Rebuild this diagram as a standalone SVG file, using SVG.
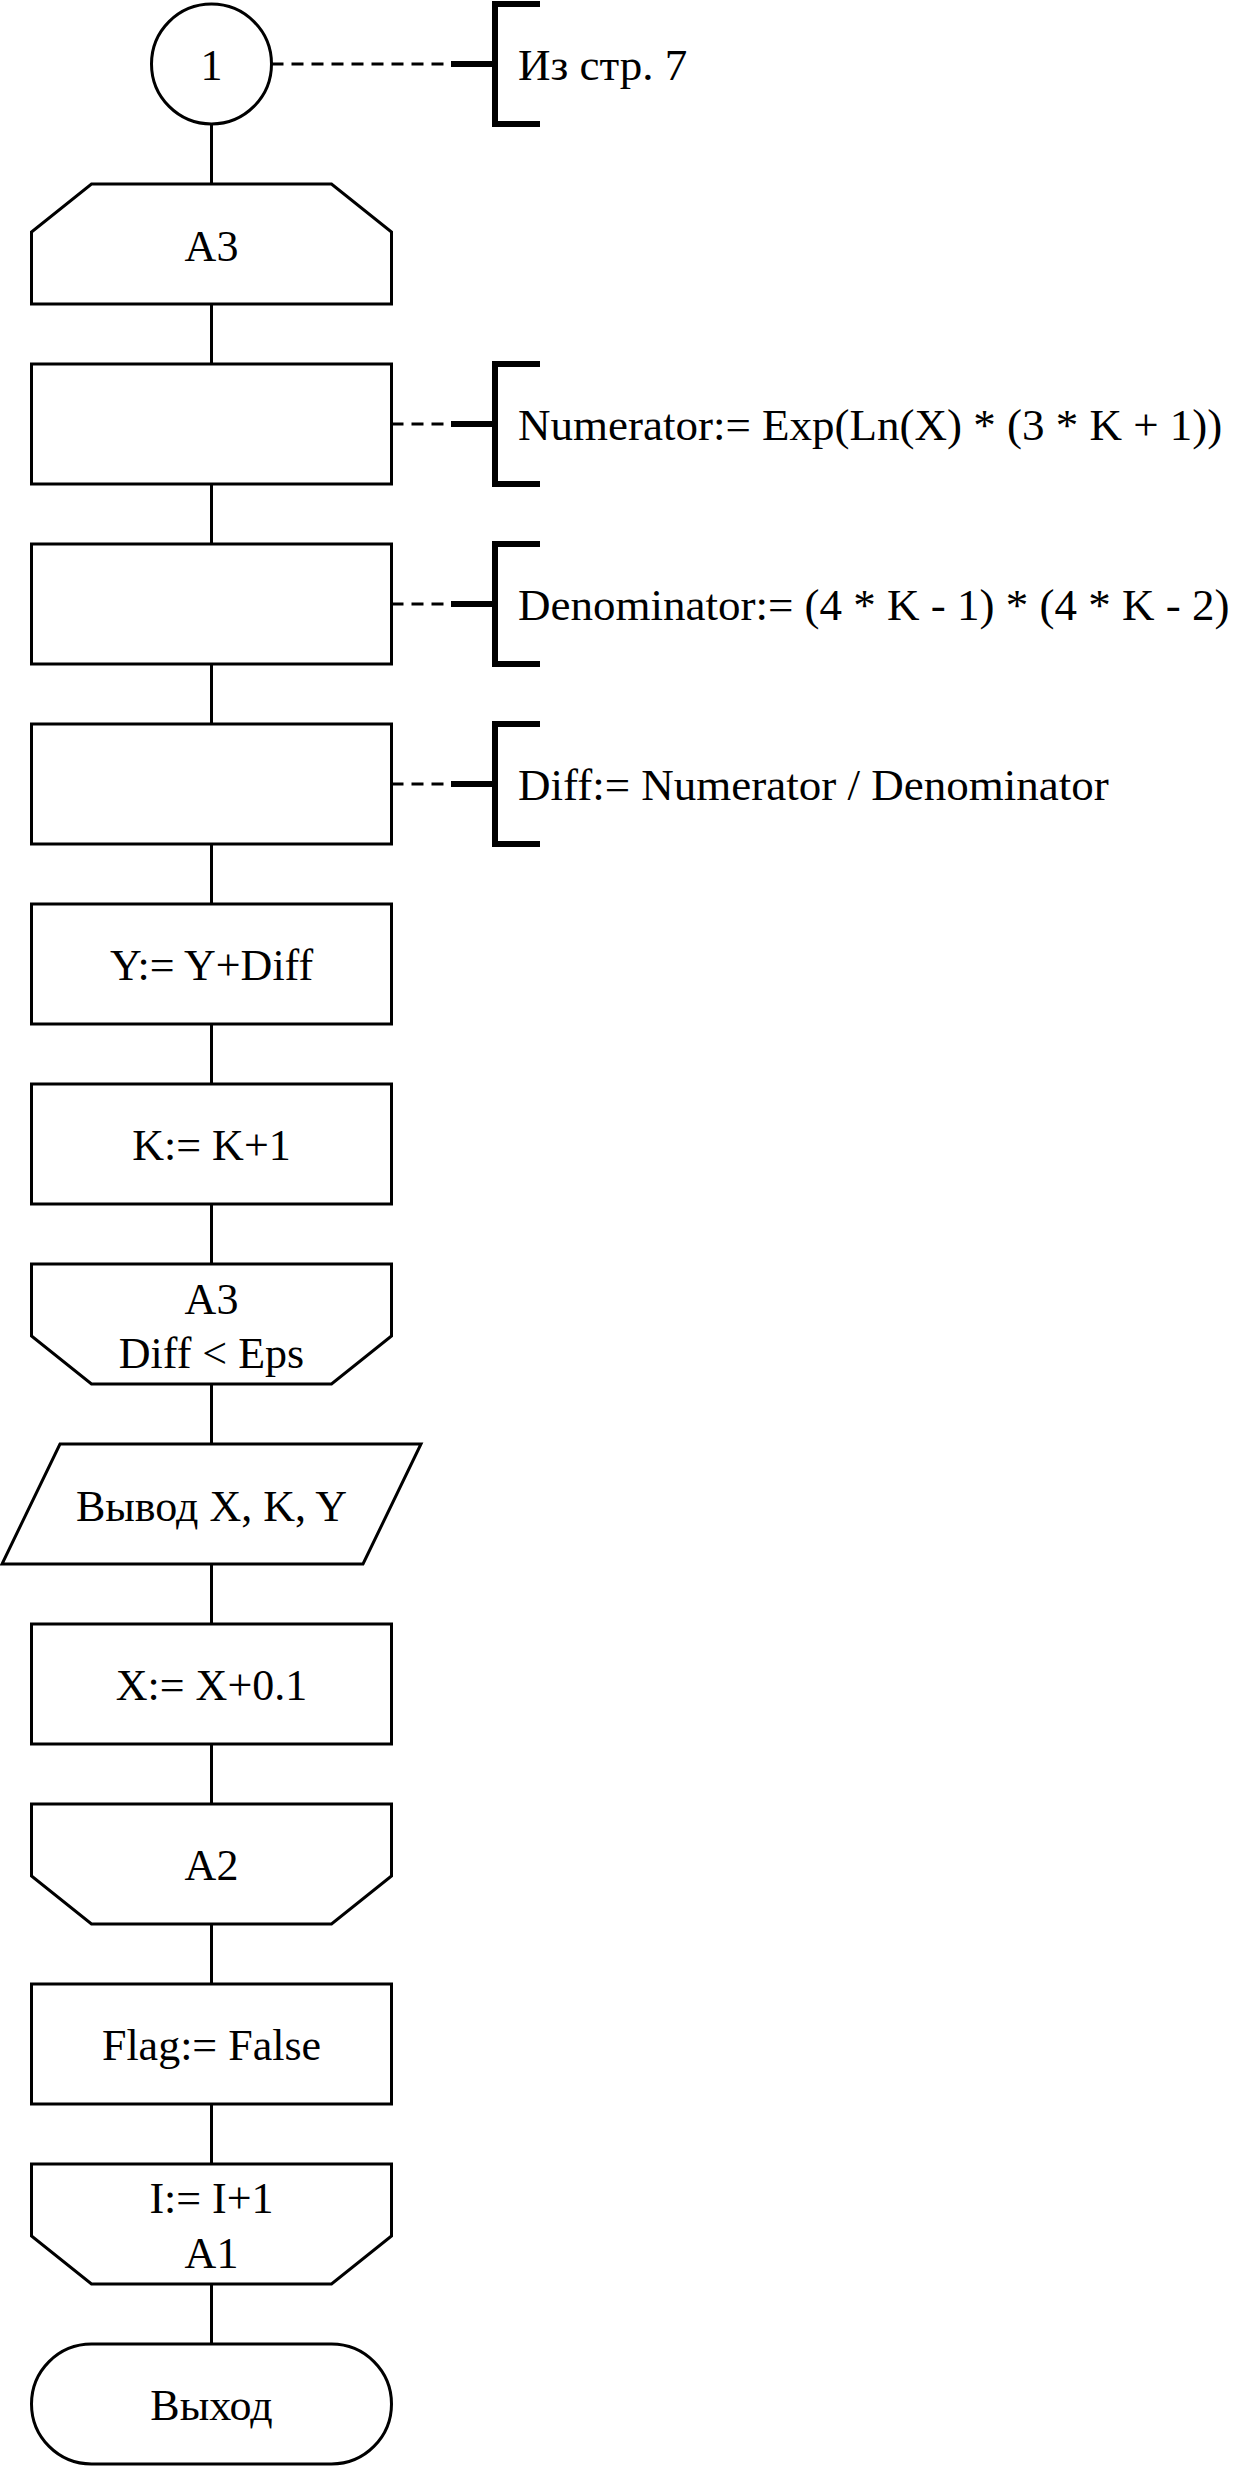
<svg xmlns="http://www.w3.org/2000/svg" width="1233" height="2466" viewBox="0 0 1233 2466">
<style>
.s{fill:#fff;stroke:#000;stroke-width:3}
.t{font-family:"Liberation Serif","Times New Roman",serif;font-size:44px;fill:#000;text-anchor:middle}
.a{font-family:"Liberation Serif","Times New Roman",serif;font-size:45px;fill:#000}
.c{stroke:#000;stroke-width:3;fill:none}
.d{stroke:#000;stroke-width:3;fill:none;stroke-dasharray:12 8}
.k{stroke:#000;stroke-width:6;fill:none}
</style>
<rect width="1233" height="2466" fill="#fff"/>
<g id="connectors">
<line class="c" x1="211.5" y1="124" x2="211.5" y2="184"/>
<line class="c" x1="211.5" y1="304" x2="211.5" y2="364"/>
<line class="c" x1="211.5" y1="484" x2="211.5" y2="544"/>
<line class="c" x1="211.5" y1="664" x2="211.5" y2="724"/>
<line class="c" x1="211.5" y1="844" x2="211.5" y2="904"/>
<line class="c" x1="211.5" y1="1024" x2="211.5" y2="1084"/>
<line class="c" x1="211.5" y1="1204" x2="211.5" y2="1264"/>
<line class="c" x1="211.5" y1="1384" x2="211.5" y2="1444"/>
<line class="c" x1="211.5" y1="1564" x2="211.5" y2="1624"/>
<line class="c" x1="211.5" y1="1744" x2="211.5" y2="1804"/>
<line class="c" x1="211.5" y1="1924" x2="211.5" y2="1984"/>
<line class="c" x1="211.5" y1="2104" x2="211.5" y2="2164"/>
<line class="c" x1="211.5" y1="2284" x2="211.5" y2="2344"/>
</g>
<g id="n0">
<circle class="s" cx="211.5" cy="64" r="60"/>
<text class="t" x="211.5" y="80">1</text>
</g>
<g id="note0">
<line class="d" x1="271.5" y1="64" x2="451" y2="64"/>
<line class="k" x1="451" y1="64" x2="495" y2="64"/>
<path class="k" d="M540,4 H495 V124 H540"/>
<text class="a" x="518" y="80">Из стр. 7</text>
</g>
<g id="n1">
<polygon class="s" points="91.5,184 331.5,184 391.5,232 391.5,304 31.5,304 31.5,232"/>
<text class="t" x="211.5" y="261">A3</text>
</g>
<g id="n2">
<rect class="s" x="31.5" y="364" width="360" height="120"/>
</g>
<g id="note2">
<line class="d" x1="391.5" y1="424" x2="451" y2="424"/>
<line class="k" x1="451" y1="424" x2="495" y2="424"/>
<path class="k" d="M540,364 H495 V484 H540"/>
<text class="a" x="518" y="440">Numerator:= Exp(Ln(X) * (3 * K + 1))</text>
</g>
<g id="n3">
<rect class="s" x="31.5" y="544" width="360" height="120"/>
</g>
<g id="note3">
<line class="d" x1="391.5" y1="604" x2="451" y2="604"/>
<line class="k" x1="451" y1="604" x2="495" y2="604"/>
<path class="k" d="M540,544 H495 V664 H540"/>
<text class="a" x="518" y="620">Denominator:= (4 * K - 1) * (4 * K - 2)</text>
</g>
<g id="n4">
<rect class="s" x="31.5" y="724" width="360" height="120"/>
</g>
<g id="note4">
<line class="d" x1="391.5" y1="784" x2="451" y2="784"/>
<line class="k" x1="451" y1="784" x2="495" y2="784"/>
<path class="k" d="M540,724 H495 V844 H540"/>
<text class="a" x="518" y="800">Diff:= Numerator / Denominator</text>
</g>
<g id="n5">
<rect class="s" x="31.5" y="904" width="360" height="120"/>
<text class="t" x="211.5" y="980">Y:= Y+Diff</text>
</g>
<g id="n6">
<rect class="s" x="31.5" y="1084" width="360" height="120"/>
<text class="t" x="211.5" y="1160">K:= K+1</text>
</g>
<g id="n7">
<polygon class="s" points="31.5,1264 391.5,1264 391.5,1336 331.5,1384 91.5,1384 31.5,1336"/>
<text class="t" x="211.5" y="1314">A3</text>
<text class="t" x="211.5" y="1368">Diff &lt; Eps</text>
</g>
<g id="n8">
<polygon class="s" points="60,1444 421,1444 363,1564 2,1564"/>
<text class="t" x="211.5" y="1521">Вывод X, K, Y</text>
</g>
<g id="n9">
<rect class="s" x="31.5" y="1624" width="360" height="120"/>
<text class="t" x="211.5" y="1700">X:= X+0.1</text>
</g>
<g id="n10">
<polygon class="s" points="31.5,1804 391.5,1804 391.5,1876 331.5,1924 91.5,1924 31.5,1876"/>
<text class="t" x="211.5" y="1880">A2</text>
</g>
<g id="n11">
<rect class="s" x="31.5" y="1984" width="360" height="120"/>
<text class="t" x="211.5" y="2060">Flag:= False</text>
</g>
<g id="n12">
<polygon class="s" points="31.5,2164 391.5,2164 391.5,2236 331.5,2284 91.5,2284 31.5,2236"/>
<text class="t" x="211.5" y="2213">I:= I+1</text>
<text class="t" x="211.5" y="2268">A1</text>
</g>
<g id="n13">
<rect class="s" x="31.5" y="2344" width="360" height="120" rx="60" ry="60"/>
<text class="t" x="211.5" y="2420">Выход</text>
</g>
</svg>
